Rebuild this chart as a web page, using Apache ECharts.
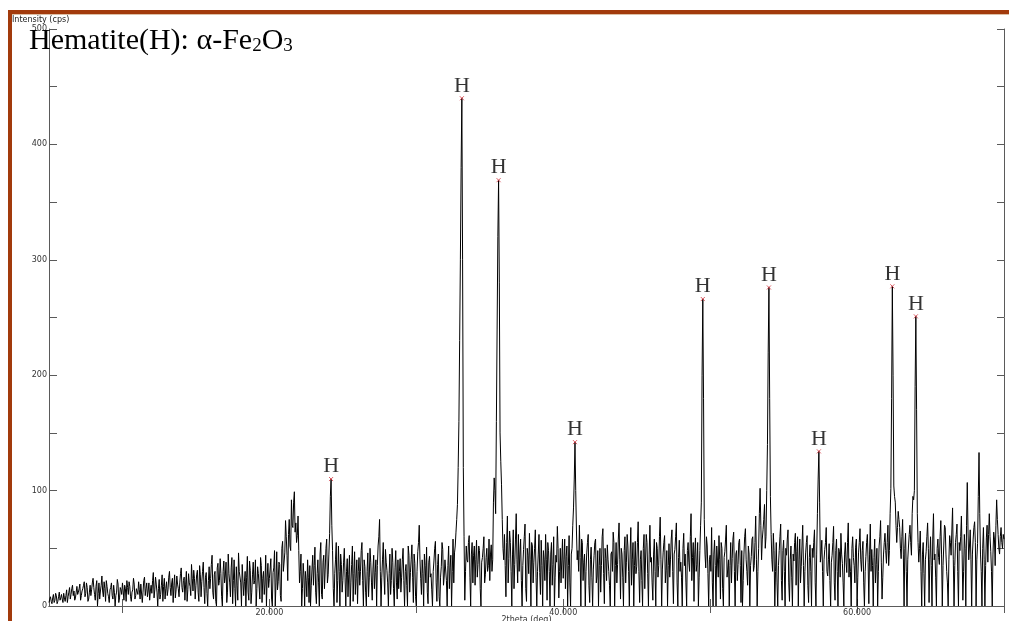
<!DOCTYPE html>
<html>
<head>
<meta charset="utf-8">
<script src="https://cdn.jsdelivr.net/npm/echarts@6/dist/echarts.min.js"></script>
<style>
  html, body { margin: 0; padding: 0; background: #fff; }
  #chart { width: 1009px; height: 621px; }
</style>
</head>
<body>
<div id="chart"></div>
<script>
  // scan: 2theta from 5.0 to 70.0 deg; counts on the 0.1 deg grid,
  // countsMid on the half steps in between (5.05, 5.15, ...), intensity in cps
  const scanStart = 5;
  const scanStep = 0.1;
  const counts = [
    3, 8, 2, 10, 5, 9, 4, 12, 7, 6,          // 5
    11, 4, 14, 8, 16, 10, 18, 13, 7, 17,     // 6
    12, 19, 9, 15, 21, 11, 16, 6, 18, 14,    // 7
    24, 10, 17, 0, 20, 13, 26, 8, 15, 22,    // 8
    11, 3, 16, 9, 18, 0, 12, 19, 7, 14,      // 9
    20, 5, 15, 22, 10, 17, 4, 14, 19, 9,     // 10
    16, 21, 6, 18, 12, 25, 15, 8, 20, 13,    // 11
    11, 29, 14, 19, 0, 23, 10, 27, 17, 6,    // 12
    21, 14, 30, 9, 24, 18, 7, 26, 15, 20,    // 13
    33, 12, 25, 19, 4, 28, 17, 36, 13, 24,   // 14
    18, 31, 4, 27, 21, 38, 2, 29, 0, 34,     // 15
    24, 44, 6, 30, 0, 37, 22, 28, 0, 39,     // 16
    26, 3, 45, 20, 33, 2, 40, 0, 18, 46,     // 17
    29, 0, 35, 21, 0, 43, 5, 31, 12, 38,     // 18
    22, 0, 34, 27, 42, 3, 30, 19, 0, 37,     // 19
    24, 41, 0, 33, 0, 47, 21, 36, 4, 56,     // 20
    30, 74, 44, 62, 52, 92, 68, 99, 72, 61,  // 21
    48, 30, 0, 37, 0, 22, 40, 3, 0, 32,      // 22
    18, 51, 2, 40, 0, 55, 6, 44, 32, 58,     // 23
    27, 63, 110, 48, 0, 40, 3, 52, 0, 36,    // 24
    22, 50, 0, 41, 27, 0, 36, 4, 47, 24,     // 25
    2, 42, 30, 55, 0, 34, 0, 46, 25, 38,     // 26
    5, 44, 29, 0, 52, 75, 0, 40, 26, 49,     // 27
    31, 0, 45, 22, 38, 0, 48, 6, 15, 41,     // 28
    25, 50, 0, 36, 0, 44, 29, 53, 3, 37,     // 29
    0, 47, 70, 24, 40, 0, 35, 51, 2, 43,     // 30
    28, 0, 39, 56, 4, 45, 0, 34, 49, 26,     // 31
    41, 0, 52, 33, 0, 58, 46, 64, 88, 160,   // 32
    300, 440, 120, 5, 52, 38, 61, 0, 55, 44, // 33
    18, 57, 36, 48, 0, 42, 60, 27, 50, 35,   // 34
    22, 53, 40, 111, 80, 240, 369, 150, 105, 50, // 35
    62, 8, 78, 41, 55, 0, 66, 36, 80, 20,    // 36
    30, 58, 0, 49, 71, 4, 44, 63, 0, 52,     // 37
    38, 66, 0, 45, 29, 57, 0, 40, 62, 5,     // 38
    48, 0, 55, 36, 0, 44, 69, 7, 50, 39,     // 39
    24, 58, 43, 0, 61, 0, 50, 85, 142, 65,   // 40
    48, 70, 0, 55, 38, 0, 46, 62, 3, 51,     // 41
    0, 44, 58, 26, 0, 50, 35, 67, 2, 41,     // 42
    53, 30, 0, 47, 64, 0, 55, 36, 72, 6,     // 43
    45, 0, 60, 38, 52, 0, 68, 40, 0, 56,     // 44
    34, 73, 3, 48, 0, 62, 39, 55, 0, 70,     // 45
    42, 5, 58, 0, 50, 35, 77, 0, 46, 61,     // 46
    31, 0, 54, 40, 66, 2, 49, 72, 0, 57,     // 47
    38, 0, 63, 45, 0, 55, 30, 80, 42, 4,     // 48
    59, 36, 0, 48, 90, 266, 75, 33, 52, 0,   // 49
    44, 68, 0, 57, 0, 39, 61, 6, 50, 0,      // 50
    47, 70, 32, 0, 55, 41, 64, 0, 48, 36,    // 51
    58, 3, 0, 45, 67, 30, 52, 0, 43, 60,     // 52
    35, 78, 0, 50, 102, 40, 66, 88, 60, 140, // 53
    276, 95, 40, 63, 0, 55, 0, 48, 71, 5,    // 54
    57, 0, 44, 66, 4, 52, 0, 39, 63, 47,     // 55
    0, 58, 34, 70, 0, 46, 61, 3, 53, 0,      // 56
    42, 66, 0, 80, 134, 38, 57, 0, 49, 68,   // 57
    26, 54, 0, 44, 69, 5, 58, 0, 47, 63,     // 58
    37, 0, 55, 29, 72, 41, 0, 60, 35, 51,    // 59
    0, 46, 67, 30, 56, 0, 43, 62, 2, 71,     // 60
    49, 0, 58, 36, 0, 52, 74, 6, 45, 63,     // 61
    37, 70, 48, 102, 277, 104, 90, 55, 82, 68, // 62
    41, 75, 0, 63, 0, 52, 70, 44, 95, 100,   // 63
    251, 80, 38, 65, 0, 55, 0, 47, 72, 3,    // 64
    60, 0, 80, 45, 0, 58, 36, 74, 0, 52,     // 65
    68, 30, 0, 61, 44, 85, 0, 55, 71, 0,     // 66
    48, 78, 5, 62, 0, 107, 40, 66, 0, 58,    // 67
    73, 0, 54, 133, 45, 0, 68, 0, 59, 38,    // 68
    80, 47, 0, 64, 35, 92, 62, 45, 68, 50,   // 69
    58                                       // 70
  ];
  const countsMid = [
    6, 4, 7, 3, 11, 2, 8, 5, 10, 3,          // 5.x5
    7, 9, 3, 12, 6, 15, 9, 5, 12, 10,        // 6.x5
    15, 5, 13, 18, 8, 20, 4, 12, 9, 20,      // 7.x5
    16, 5, 22, 11, 6, 18, 13, 21, 4, 17,     // 8.x5
    8, 14, 20, 6, 12, 9, 23, 3, 16, 10,      // 9.x5
    13, 18, 4, 16, 21, 8, 12, 24, 6, 15,     // 10.x5
    10, 14, 19, 3, 22, 9, 20, 13, 5, 18,     // 11.x5
    22, 7, 25, 12, 15, 6, 18, 4, 24, 15,     // 12.x5
    9, 25, 16, 20, 3, 27, 14, 19, 8, 28,     // 13.x5
    16, 22, 5, 30, 14, 20, 9, 24, 31, 6,     // 14.x5
    27, 12, 35, 8, 30, 16, 25, 11, 22, 15,   // 15.x5
    36, 12, 27, 4, 33, 18, 41, 8, 30, 20,    // 16.x5
    38, 12, 28, 8, 42, 22, 15, 34, 5, 30,    // 17.x5
    20, 36, 9, 30, 25, 12, 39, 2, 27, 19,    // 18.x5
    40, 15, 28, 6, 35, 24, 10, 44, 25, 16,   // 19.x5
    32, 6, 29, 48, 20, 14, 38, 9, 50, 30,    // 20.x5
    46, 60, 22, 75, 48, 70, 90, 64, 55, 78,  // 21.x5
    20, 45, 15, 26, 30, 8, 25, 35, 18, 44,   // 22.x5
    35, 12, 28, 20, 45, 10, 38, 15, 50, 20,  // 23.x5
    45, 95, 70, 15, 28, 55, 22, 30, 45, 12,  // 24.x5
    38, 25, 30, 8, 44, 20, 52, 28, 10, 40,   // 25.x5
    30, 18, 48, 22, 40, 12, 30, 8, 50, 20,   // 26.x5
    32, 15, 40, 35, 60, 30, 25, 55, 10, 38,  // 27.x5
    20, 28, 10, 50, 15, 33, 20, 40, 30, 12,  // 28.x5
    40, 22, 30, 18, 52, 12, 40, 25, 45, 8,   // 29.x5
    30, 55, 40, 10, 28, 45, 20, 12, 38, 25,  // 30.x5
    14, 30, 50, 20, 36, 8, 25, 55, 18, 40,   // 31.x5
    22, 35, 15, 44, 30, 20, 52, 75, 120, 230, // 32.x5
    380, 300, 60, 30, 40, 55, 25, 45, 20, 52, // 33.x5
    40, 25, 52, 15, 38, 50, 20, 42, 30, 58,  // 34.x5
    45, 30, 90, 100, 160, 320, 280, 125, 75, 40, // 35.x5
    35, 55, 20, 65, 30, 45, 15, 58, 40, 62,  // 36.x5
    45, 22, 35, 60, 15, 50, 28, 40, 55, 20,  // 37.x5
    50, 25, 30, 62, 10, 35, 48, 22, 40, 55,  // 38.x5
    30, 45, 18, 60, 25, 38, 50, 30, 20, 58,  // 39.x5
    40, 15, 52, 35, 20, 45, 70, 110, 100, 40, // 40.x5
    30, 42, 58, 22, 45, 30, 55, 18, 40, 25,  // 41.x5
    32, 55, 20, 48, 35, 12, 60, 28, 50, 22,  // 42.x5
    40, 18, 45, 30, 55, 35, 20, 58, 40, 50,  // 43.x5
    25, 48, 20, 62, 30, 45, 18, 55, 35, 28,  // 44.x5
    55, 30, 40, 22, 50, 15, 62, 28, 45, 38,  // 45.x5
    20, 45, 30, 55, 25, 60, 40, 32, 55, 20,  // 46.x5
    48, 35, 25, 58, 30, 45, 60, 20, 42, 30,  // 47.x5
    25, 50, 35, 20, 48, 38, 60, 22, 55, 45,  // 48.x5
    30, 55, 25, 70, 200, 180, 45, 60, 28, 40, // 49.x5
    30, 20, 45, 35, 52, 25, 40, 55, 15, 42,  // 50.x5
    58, 25, 40, 35, 20, 58, 30, 45, 22, 55,  // 51.x5
    35, 48, 22, 60, 40, 18, 45, 35, 58, 30,  // 52.x5
    55, 40, 30, 80, 70, 58, 75, 50, 100, 220, // 53.x5
    180, 62, 30, 48, 30, 20, 35, 60, 22, 48, // 54.x5
    30, 50, 58, 20, 40, 25, 45, 55, 18, 60,  // 55.x5
    40, 20, 52, 35, 30, 55, 18, 42, 30, 50,  // 56.x5
    55, 20, 45, 110, 90, 45, 30, 40, 55, 30, // 57.x5
    40, 22, 38, 55, 20, 48, 30, 50, 25, 45,  // 58.x5
    20, 45, 38, 55, 25, 30, 50, 42, 20, 58,  // 59.x5
    25, 55, 40, 48, 20, 30, 55, 38, 45, 30,  // 60.x5
    35, 42, 20, 50, 30, 60, 38, 25, 55, 48,  // 61.x5
    55, 35, 80, 180, 200, 95, 70, 68, 75, 50, // 62.x5
    60, 45, 50, 30, 40, 62, 55, 80, 92, 190, // 63.x5
    170, 55, 50, 30, 45, 28, 40, 60, 50, 40, // 64.x5
    35, 58, 40, 25, 50, 42, 60, 45, 35, 70,  // 65.x5
    45, 20, 40, 55, 65, 40, 35, 62, 30, 55,  // 66.x5
    60, 45, 30, 50, 70, 65, 52, 40, 45, 68,  // 67.x5
    55, 40, 95, 80, 30, 50, 40, 35, 70, 62,  // 68.x5
    60, 30, 45, 58, 70, 75, 50, 60, 55, 62   // 69.x5
  ];

  // hematite reflections marked with "H"
  const peakTheta = [24.2, 33.1, 35.6, 40.8, 49.5, 54.0, 57.4, 62.4, 64.0];
  const peakCounts = [110, 440, 369, 142, 266, 276, 134, 277, 251];

  const xTickValues = [10, 20, 30, 40, 50, 60, 70];
  const xLabelValues = [20, 40, 60];

  const scan = [];
  counts.forEach((c, i) => {
    scan.push([+(scanStart + i * scanStep).toFixed(2), c]);
    if (i < countsMid.length) {
      scan.push([+(scanStart + (i + 0.5) * scanStep).toFixed(2), countsMid[i]]);
    }
  });
  const peaks = peakTheta.map((t, i) => [t, peakCounts[i]]);

  const chart = echarts.init(document.getElementById('chart'));

  const axisGray = '#5a5a5a';
  const labelFont = { fontFamily: 'DejaVu Sans', fontSize: 8, color: '#333' };

  const option = {
    animation: false,
    backgroundColor: '#fff',
    title: {
      left: 29,
      top: 26,
      padding: 0,
      text: '{m|Hematite(H): \u03b1-Fe}{s|2}{m|O}{s|3}',
      textStyle: {
        rich: {
          m: { fontFamily: 'Liberation Serif', fontWeight: 'normal', fontSize: 30, color: '#000', lineHeight: 30, verticalAlign: 'top' },
          s: { fontFamily: 'Liberation Serif', fontWeight: 'normal', fontSize: 19, color: '#000', lineHeight: 19, verticalAlign: 'bottom', padding: [15, 0, 0, 0] },
        },
      },
    },
    grid: { left: 49, right: 5, top: 29, bottom: 15, outerBoundsMode: 'none' },
    xAxis: [
      {
        type: 'value',
        min: 5,
        max: 70,
        name: '2theta (deg)',
        nameLocation: 'middle',
        nameGap: 10,
        nameMoveOverlap: false,
        nameTextStyle: labelFont,
        splitLine: { show: false },
        axisLine: { lineStyle: { color: axisGray } },
        axisTick: { inside: true, length: 7, customValues: xTickValues, lineStyle: { color: axisGray } },
        axisLabel: Object.assign({ margin: 3, customValues: xLabelValues, formatter: (v) => v.toFixed(3) }, labelFont),
      },
      {
        type: 'value',
        position: 'top',
        min: 5,
        max: 70,
        splitLine: { show: false },
        axisLine: { lineStyle: { color: axisGray } },
        axisTick: { inside: true, length: 7, customValues: xTickValues, lineStyle: { color: axisGray } },
        axisLabel: { show: false },
      },
    ],
    yAxis: [
      {
        type: 'value',
        min: 0,
        max: 500,
        interval: 50,
        splitLine: { show: false },
        axisLine: { show: true, lineStyle: { color: axisGray } },
        axisTick: { show: true, inside: true, length: 8, lineStyle: { color: axisGray } },
        axisLabel: Object.assign({
          margin: 2,
          align: 'right',
          alignMinLabel: 'right',
          alignMaxLabel: 'right',
          showMaxLabel: true,
          formatter: (v) => (v % 100 === 0 ? String(v) : ''),
        }, labelFont),
      },
      {
        type: 'value',
        position: 'right',
        min: 0,
        max: 500,
        interval: 50,
        splitLine: { show: false },
        axisLine: { show: true, lineStyle: { color: axisGray } },
        axisTick: { show: true, inside: true, length: 7, lineStyle: { color: axisGray } },
        axisLabel: { show: false },
      },
    ],
    series: [
      {
        type: 'line',
        data: scan,
        showSymbol: false,
        symbol: 'none',
        sampling: null,
        lineStyle: { color: '#000', width: 1 },
      },
      {
        type: 'scatter',
        data: peaks,
        symbol: 'path://M0,0L10,10M10,0L0,10',
        symbolSize: 4,
        itemStyle: { color: 'transparent', borderColor: '#d0303a', borderWidth: 1 },
        label: {
          show: true,
          position: 'top',
          distance: -1,
          formatter: 'H',
          fontFamily: 'Liberation Serif',
          fontSize: 22,
          color: '#000',
        },
        z: 5,
      },
    ],
    graphic: [
      { type: 'rect', z: 100, shape: { x: 8, y: 10, width: 1001, height: 4 }, style: { fill: '#a23a0c' } },
      { type: 'rect', z: 100, shape: { x: 12, y: 14, width: 997, height: 1 }, style: { fill: '#dcbfa5' } },
      { type: 'rect', z: 100, shape: { x: 8, y: 10, width: 4, height: 611 }, style: { fill: '#a23a0c' } },
      {
        type: 'text',
        z: 100,
        left: 12,
        top: 16,
        style: { text: 'Intensity (cps)', font: '8px "DejaVu Sans"', fill: '#222' },
      },
    ],
  };

  chart.setOption(option);
  window.addEventListener('resize', () => chart.resize());
</script>
</body>
</html>
